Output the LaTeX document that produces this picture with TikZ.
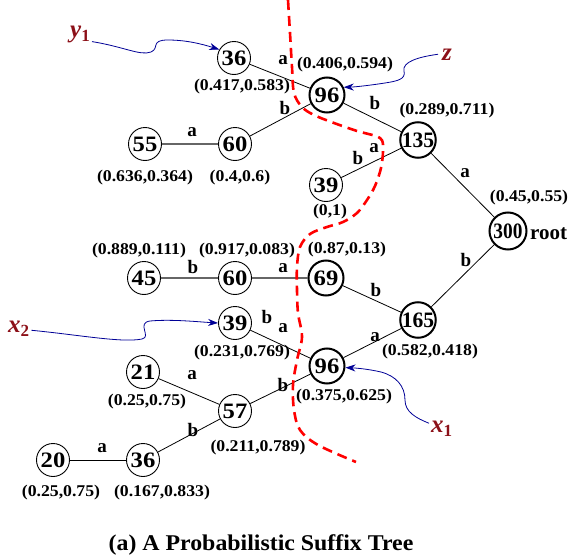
\documentclass[tikz,border=0pt]{standalone}
\usepackage{fontspec}
\setmainfont{Liberation Serif}
\usetikzlibrary{arrows.meta}
\definecolor{varred}{RGB}{140,16,24}
\definecolor{ptrblue}{RGB}{0,0,150}
\definecolor{cutred}{RGB}{255,0,0}
% widen or squeeze text horizontally
\newcommand{\hscaled}[2]{\scalebox{#1}[1]{#2}}
% a variable with a subscript, as used for the pointers
\newcommand{\varsub}[2]{{\itshape #1}\raisebox{-4pt}{\fontsize{17}{17}\selectfont\upshape #2}}

\begin{document}
\begin{tikzpicture}[x=1pt,y=-1pt,
  leaf/.style={circle,draw,line width=0.9pt,minimum size=33pt,inner sep=0pt,
               font=\fontsize{22}{22}\selectfont\bfseries},
  hub/.style={leaf,line width=2pt,minimum size=35pt},
  prob/.style={inner sep=0pt,font=\fontsize{16.4}{17}\selectfont\bfseries},
  sym/.style={inner sep=0pt,font=\fontsize{19}{19}\selectfont\bfseries},
  edge/.style={line width=0.8pt},
  greyedge/.style={line width=1.2pt,black!60},
  var/.style={inner sep=0pt,text=varred,font=\fontsize{25}{25}\selectfont\bfseries},
  ptr/.style={ptrblue,line width=0.8pt,-{Stealth[length=10pt,width=7pt]}},
  cut/.style={cutred,line width=2.6pt,dash pattern=on 10pt off 6pt}
]
\useasboundingbox (0,0) rectangle (574,557);

% ---- tree nodes ----
\node[leaf] (a36)  at (234,58)  {\hscaled{1.12}{36}};
\node[hub]  (a96)  at (327,95)  {\hscaled{1.12}{96}};
\node[leaf] (a55)  at (145,144) {\hscaled{1.12}{55}};
\node[leaf] (a60)  at (235,144) {\hscaled{1.12}{60}};
\node[hub]  (a135) at (418,140) {\hscaled{0.98}{135}};
\node[leaf] (a39)  at (326,185) {\hscaled{1.12}{39}};
\node[hub,minimum size=37pt] (root) at (508,231) {\hscaled{0.88}{300}};
\node[leaf] (b45)  at (144,278) {\hscaled{1.12}{45}};
\node[leaf] (b60)  at (235,278) {\hscaled{1.12}{60}};
\node[hub]  (b69)  at (326,278) {\hscaled{1.12}{69}};
\node[hub]  (b165) at (418,320) {\hscaled{0.98}{165}};
\node[leaf] (b39)  at (235,323) {\hscaled{1.12}{39}};
\node[hub]  (b96)  at (327,366) {\hscaled{1.12}{96}};
\node[leaf] (c21)  at (143,372) {\hscaled{1.12}{21}};
\node[leaf] (c57)  at (235,411) {\hscaled{1.12}{57}};
\node[leaf] (c20)  at (53,460)  {\hscaled{1.12}{20}};
\node[leaf] (c36)  at (143,460) {\hscaled{1.12}{36}};

% ---- edges ----
\draw[edge] (a36) -- (a96);
\draw[edge] (a60) -- (a96);
\draw[edge] (a96) -- (a135);
\draw[edge] (a39) -- (a135);
\draw[edge] (a135) -- (root);
\draw[edge] (root) -- (b165);
\draw[edge] (b69) -- (b165);
\draw[edge] (b96) -- (b165);
\draw[edge] (b39) -- (b96);
\draw[edge] (c57) -- (b96);
\draw[edge] (c21) -- (c57);
\draw[edge] (c36) -- (c57);
\draw[edge] (c20) -- (c36);
\draw[greyedge] (a55) -- (a60);
\draw[greyedge] (b45) -- (b60);
\draw[greyedge] (b60) -- (b69);

% ---- edge symbols ----
\node[sym] (s1)  at (283,60)  {a};
\node[sym] (s2)  at (285,108) {b};
\node[sym] (s3)  at (192,132) {a};
\node[sym] (s4)  at (375,103) {b};
\node[sym] (s5)  at (358,158) {b};
\node[sym] (s6)  at (374,148) {a};
\node[sym] (s7)  at (465,173) {a};
\node[sym] (s8)  at (466,260) {b};
\node[sym] (s9)  at (376,290) {b};
\node[sym] (s10) at (193,267) {b};
\node[sym] (s11) at (283,268) {a};
\node[sym] (s12) at (267,317) {b};
\node[sym] (s13) at (283,328) {a};
\node[sym] (s14) at (375,337) {a};
\node[sym] (s15) at (283,385) {b};
\node[sym] (s16) at (192,375) {a};
\node[sym] (s17) at (193,430) {b};
\node[sym] (s18) at (102,448) {a};

% ---- probability pairs ----
\node[prob] (p1)  at (242,87)  {\hscaled{1.08}{(0.417,0.583)}};
\node[prob] (p2)  at (345,65)  {\hscaled{1.08}{(0.406,0.594)}};
\node[prob] (p3)  at (447,111) {\hscaled{1.08}{(0.289,0.711)}};
\node[prob] (p4)  at (145,178) {\hscaled{1.08}{(0.636,0.364)}};
\node[prob] (p5)  at (240,178) {\hscaled{1.08}{(0.4,0.6)}};
\node[prob] (p6)  at (330,212) {\hscaled{1.08}{(0,1)}};
\node[prob] (p7)  at (529,198) {\hscaled{1.08}{(0.45,0.55)}};
\node[prob] (p8)  at (139,251) {\hscaled{1.08}{(0.889,0.111)}};
\node[prob] (p9)  at (247,251) {\hscaled{1.08}{(0.917,0.083)}};
\node[prob] (p10) at (347,250) {\hscaled{1.08}{(0.87,0.13)}};
\node[prob] (p11) at (242,353) {\hscaled{1.08}{(0.231,0.769)}};
\node[prob] (p12) at (430,352) {\hscaled{1.08}{(0.582,0.418)}};
\node[prob] (p13) at (344,397) {\hscaled{1.08}{(0.375,0.625)}};
\node[prob] (p14) at (147,402) {\hscaled{1.08}{(0.25,0.75)}};
\node[prob] (p15) at (258,448) {\hscaled{1.08}{(0.211,0.789)}};
\node[prob] (p16) at (61,493)  {\hscaled{1.08}{(0.25,0.75)}};
\node[prob] (p17) at (162,493) {\hscaled{1.08}{(0.167,0.833)}};

\node[inner sep=0pt,anchor=base west,font=\fontsize{21}{21}\selectfont\bfseries]
  (rootlbl) at (530,239) {root};

% ---- pointer variables ----
\node[var,anchor=base west] (y1) at (70,37)  {\varsub{y}{1}};
\node[var,anchor=base west] (z)  at (442,60) {\itshape z};
\node[var,anchor=base west] (x2) at (8,332)  {\varsub{x}{2}};
\node[var,anchor=base west] (x1) at (431,432) {\varsub{x}{1}};

\draw[ptr] ([shift={(2,-1)}]y1.south east)
  .. controls (125,47) and (140,56) .. (151,52)
  .. controls (160,48) and (150,40) .. (168,40)
  .. controls (186,40) and (202,44) .. (a36.150);
\draw[ptr] ([shift={(-4,0)}]z.west)
  .. controls (418,57) and (402,62) .. (404,71)
  .. controls (406,79) and (398,81) .. (385,83)
  .. controls (372,85) and (356,87) .. (a96.25);
\draw[ptr] ([shift={(2,2)}]x2.east)
  .. controls (80,335) and (122,343) .. (142,339)
  .. controls (152,337) and (136,323) .. (150,321)
  .. controls (172,319) and (200,322) .. (b39.west);
\draw[ptr] ([shift={(-2,-5)}]x1.west)
  .. controls (416,418) and (405,412) .. (405,400)
  .. controls (405,386) and (396,376) .. (381,372)
  .. controls (368,369) and (356,368) .. (b96.-5);

% ---- dashed cut ----
\draw[cut] plot[smooth,tension=0.55] coordinates {
  (288,0) (290,33) (292,67) (294,93) (302,107) (314,115) (334,123)
  (357,131) (380,138) (383,150) (381,168) (375,186) (367,200)
  (357,213) (343,222) (327,227) (310,234) (300,247) (297,267)
  (297,290) (298,313) (302,337) (297,360) (293,385) (294,410)
  (300,430) (318,445) (356,462)};

% ---- caption ----
\node[inner sep=0pt,anchor=base,font=\fontsize{22.5}{23}\selectfont\bfseries]
  (caption) at (261,550) {\hscaled{1.06}{(a) A Probabilistic Suffix Tree}};
\end{tikzpicture}
\end{document}
